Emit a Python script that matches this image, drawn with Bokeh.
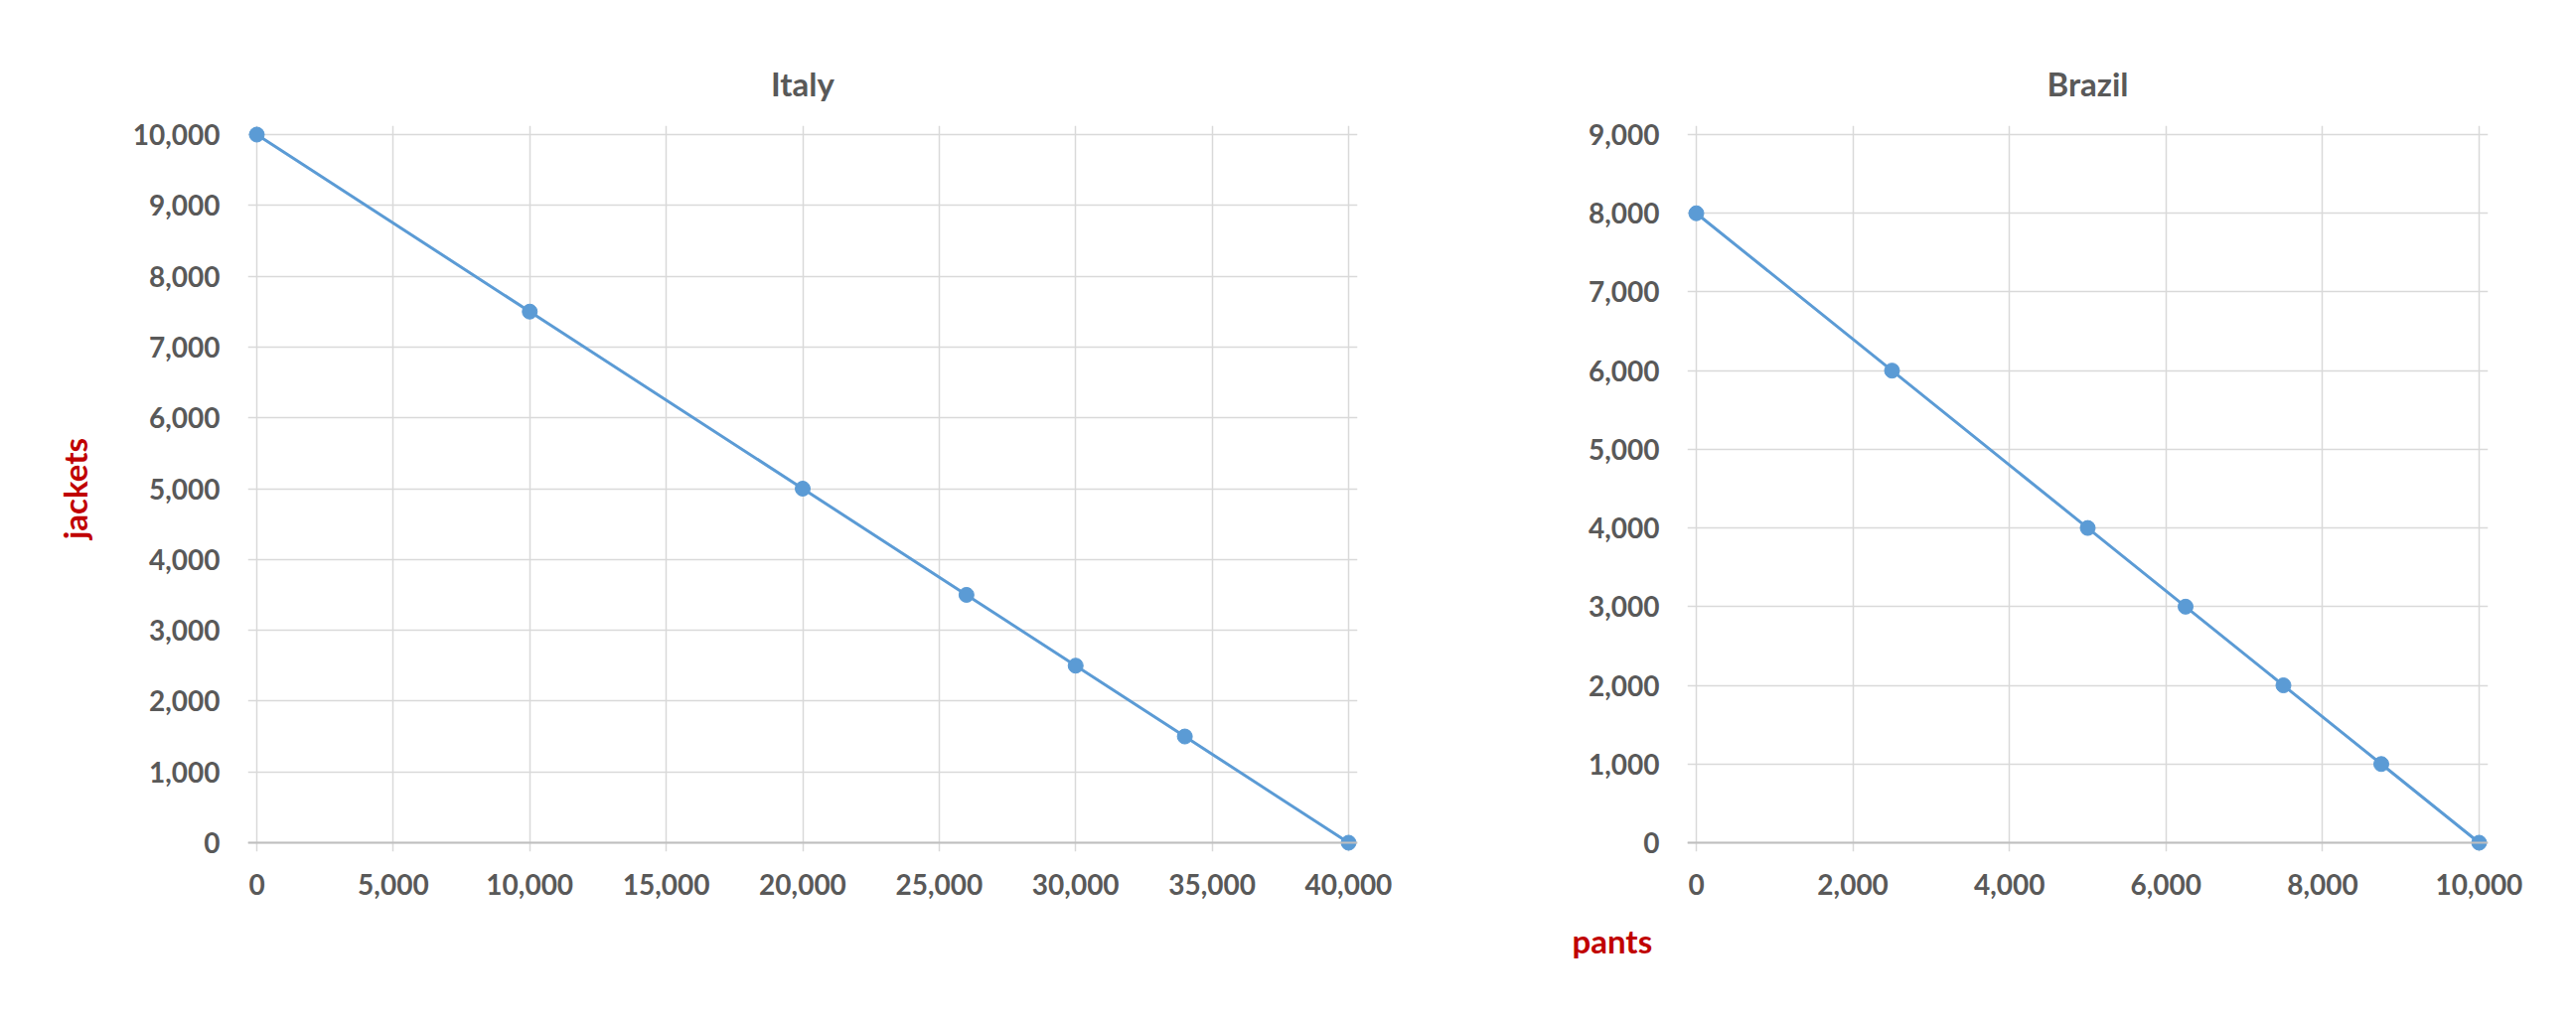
from bokeh.plotting import figure
from bokeh.layouts import row
from bokeh.models import FixedTicker, NumeralTickFormatter, Range1d, Title
from bokeh.embed import file_html
from bokeh.resources import INLINE

italy_pants = [0, 10000, 20000, 26000, 30000, 34000, 40000]
italy_jackets = [10000, 7500, 5000, 3500, 2500, 1500, 0]
brazil_pants = [0, 2500, 5000, 6250, 7500, 8750, 10000]
brazil_jackets = [8000, 6000, 4000, 3000, 2000, 1000, 0]

italy_xticks = list(range(0, 40001, 5000))
italy_yticks = list(range(0, 10001, 1000))
brazil_xticks = list(range(0, 10001, 2000))
brazil_yticks = list(range(0, 9001, 1000))

FONT = "Lato"
TXT = "#595959"
BLUE = "#5b9bd5"
PAD = 9  # pixels of padding so edge markers are not clipped

def make(title, xs, ys, xr, yr, xt, yt, w, bl, br, data_w, data_h):
    xpad = PAD / data_w * (xr[1] - xr[0])
    ypad = PAD / data_h * (yr[1] - yr[0])
    p = figure(width=w, height=1011, output_backend="svg", toolbar_location=None,
               x_range=Range1d(xr[0] - xpad, xr[1] + xpad),
               y_range=Range1d(yr[0] - ypad, yr[1] + ypad),
               min_border_left=bl, min_border_right=br, min_border_top=126, min_border_bottom=154)
    p.title.text = title
    p.title.align = "center"
    p.title.text_font = FONT
    p.title.text_font_size = "33px"
    p.title.text_font_style = "bold"
    p.title.text_color = TXT
    p.title.offset = 0
    p.title.standoff = 45
    p.outline_line_color = None
    p.line(xs, ys, line_color=BLUE, line_width=3)
    p.scatter(xs, ys, size=15, fill_color=BLUE, line_color=BLUE)
    for ax, t in ((p.xaxis, xt), (p.yaxis, yt)):
        ax.ticker = FixedTicker(ticks=t)
        ax.formatter = NumeralTickFormatter(format="0,0")
        ax.major_tick_line_color = None
        ax.minor_tick_line_color = None
        ax.major_label_text_font = FONT
        ax.major_label_text_font_size = "28px"
        ax.major_label_text_font_style = "bold"
        ax.major_label_text_color = TXT
    p.yaxis.axis_line_color = None
    p.xaxis.axis_line_color = None
    p.xaxis.major_label_standoff = 16
    p.yaxis.major_label_standoff = 22
    p.xgrid.ticker = FixedTicker(ticks=xt)
    p.ygrid.ticker = FixedTicker(ticks=yt)
    p.grid.grid_line_color = "#d9d9d9"
    p.grid.grid_line_width = 1.5
    p.hspan(y=[yr[0]], line_color="#bfbfbf", line_width=2)
    return p

p1 = make("Italy", italy_pants, italy_jackets, (0, 40000), (0, 10000),
          italy_xticks, italy_yticks, 1450, 249, 84, 1099, 713)
p1.yaxis.axis_label = "jackets"
p1.yaxis.axis_label_text_font = FONT
p1.yaxis.axis_label_text_font_size = "33px"
p1.yaxis.axis_label_text_font_style = "bold"
p1.yaxis.axis_label_text_color = "#c00000"
p1.yaxis.axis_label_standoff = 36

p2 = make("Brazil", brazil_pants, brazil_jackets, (0, 10000), (0, 9000),
          brazil_xticks, brazil_yticks, 1127, 248, 73, 788, 713)
t = Title(text="pants", align="left", offset=-116, text_font=FONT, text_font_size="33px",
          text_font_style="bold", text_color="#c00000", standoff=42)
p2.add_layout(t, "below")

layout = row(p1, p2, spacing=0)
open("out.html", "w").write(file_html(layout, INLINE))
